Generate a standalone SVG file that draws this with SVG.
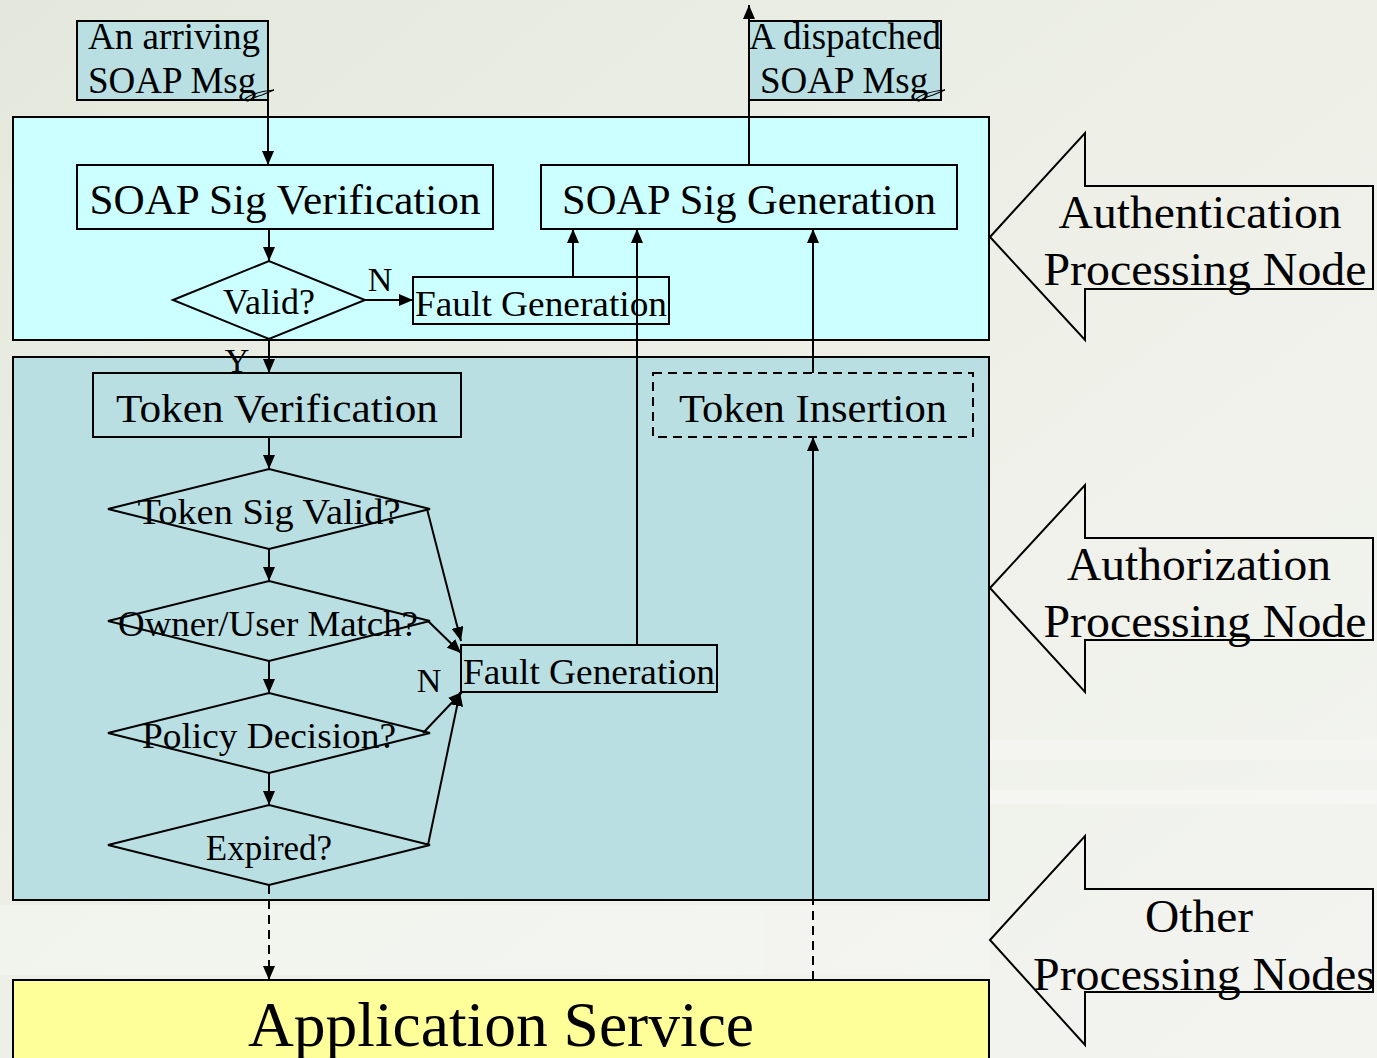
<svg xmlns="http://www.w3.org/2000/svg" width="1377" height="1058" viewBox="0 0 1377 1058">
<defs>
<linearGradient id="bg" x1="0" y1="0" x2="1" y2="1">
<stop offset="0" stop-color="#e4e8dc"/>
<stop offset="0.5" stop-color="#eef0e8"/>
<stop offset="1" stop-color="#f3f4f0"/>
</linearGradient>
<marker id="ah" markerUnits="userSpaceOnUse" markerWidth="14" markerHeight="12" refX="14" refY="6" orient="auto">
<path d="M0,0 L14,6 L0,12 z" fill="#000"/>
</marker>
<style>
text{font-family:"Liberation Serif","Times New Roman",serif;fill:#000}
.box{stroke:#000;stroke-width:2}
.ln{fill:none;stroke:#000;stroke-width:2}
.arr{fill:none;stroke:#000;stroke-width:2;marker-end:url(#ah)}
.dash{stroke-dasharray:9,6}
.dm{fill:none;stroke:#000;stroke-width:2}
.big{stroke:#000;stroke-width:2;fill:none}
</style>
</defs>
<rect width="1377" height="1058" fill="url(#bg)"/>
<g id="bg-stack" opacity="0.5">
<rect x="990" y="740" width="387" height="20" fill="#f8f8f6"/>
<rect x="990" y="790" width="387" height="14" fill="#fafaf8"/>
<rect x="0" y="905" width="990" height="70" fill="#f6f7f3"/>
</g>

<g id="layer-authentication">
<rect class="box" x="13" y="117" width="976" height="223" fill="#ccffff"/>
</g>
<g id="layer-authorization">
<rect class="box" x="13" y="357" width="976" height="543" fill="#b9dfe3"/>
</g>
<g id="application-service">
<rect class="box" x="13" y="980" width="976" height="90" fill="#ffff99"/>
<text x="501" y="1046" font-size="64" text-anchor="middle" textLength="506" lengthAdjust="spacingAndGlyphs">Application Service</text>
</g>

<g id="arriving-msg">
<rect class="box" x="77" y="21" width="191" height="79" fill="#b9dfe3"/>
<text x="88" y="49" font-size="37" textLength="172" lengthAdjust="spacingAndGlyphs">An arriving</text>
<text x="88" y="93" font-size="37">SOAP Msg</text>
<path d="M244,100 Q252,92 274,90 L262,95 Q254,97 248,101 Z" fill="none" stroke="#000" stroke-width="1.2"/>
</g>
<g id="dispatched-msg">
<rect class="box" x="749" y="21" width="192" height="79" fill="#b9dfe3"/>
<text x="749" y="49" font-size="37" textLength="192" lengthAdjust="spacingAndGlyphs">A dispatched</text>
<text x="760" y="93" font-size="37">SOAP Msg</text>
<path d="M915,100 Q923,92 945,90 L933,95 Q925,97 919,101 Z" fill="none" stroke="#000" stroke-width="1.2"/>
</g>

<g id="soap-sig-verification">
<rect class="box" x="77" y="165" width="416" height="64" fill="none"/>
<text x="285" y="214" font-size="42" text-anchor="middle" textLength="391" lengthAdjust="spacingAndGlyphs">SOAP Sig Verification</text>
</g>
<g id="soap-sig-generation">
<rect class="box" x="541" y="165" width="416" height="64" fill="none"/>
<text x="749" y="214" font-size="42" text-anchor="middle" textLength="374" lengthAdjust="spacingAndGlyphs">SOAP Sig Generation</text>
</g>
<g id="valid">
<polygon class="dm" points="173,300 269,261 365,300 269,339"/>
<text x="269" y="314" font-size="36" text-anchor="middle">Valid?</text>
</g>
<g id="fault-generation-1">
<rect class="box" x="413" y="277" width="256" height="47" fill="none"/>
<text x="415" y="316" font-size="36" textLength="252" lengthAdjust="spacingAndGlyphs">Fault Generation</text>
</g>

<g id="token-verification">
<rect class="box" x="93" y="373" width="368" height="64" fill="none"/>
<text x="277" y="422" font-size="41" text-anchor="middle" textLength="322" lengthAdjust="spacingAndGlyphs">Token Verification</text>
</g>
<g id="token-insertion">
<rect class="box dash" x="653" y="373" width="320" height="64" fill="none"/>
<text x="813" y="422" font-size="41" text-anchor="middle" textLength="268" lengthAdjust="spacingAndGlyphs">Token Insertion</text>
</g>
<g id="token-sig-valid">
<polygon class="dm" points="108,509 269,469 430,509 269,549"/>
<text x="269" y="524" font-size="35" text-anchor="middle" textLength="263" lengthAdjust="spacingAndGlyphs">Token Sig Valid?</text>
</g>
<g id="owner-user-match">
<polygon class="dm" points="108,621 269,581 430,621 269,661"/>
<text x="268" y="636" font-size="35" text-anchor="middle" textLength="300" lengthAdjust="spacingAndGlyphs">Owner/User Match?</text>
</g>
<g id="policy-decision">
<polygon class="dm" points="108,733 269,693 430,733 269,773"/>
<text x="269" y="748" font-size="35" text-anchor="middle" textLength="254" lengthAdjust="spacingAndGlyphs">Policy Decision?</text>
</g>
<g id="expired">
<polygon class="dm" points="108,845 269,805 430,845 269,885"/>
<text x="269" y="860" font-size="35" text-anchor="middle">Expired?</text>
</g>
<g id="fault-generation-2">
<rect class="box" x="461" y="645" width="256" height="47" fill="none"/>
<text x="463" y="684" font-size="36" textLength="252" lengthAdjust="spacingAndGlyphs">Fault Generation</text>
</g>

<g id="authentication-arrow">
<polygon class="big" points="990,237 1085,133 1085,186 1373,186 1373,289 1085,289 1085,340"/>
<text x="1200" y="228" font-size="46" text-anchor="middle" textLength="283" lengthAdjust="spacingAndGlyphs">Authentication</text>
<text x="1205" y="285" font-size="46" text-anchor="middle" textLength="323" lengthAdjust="spacingAndGlyphs">Processing Node</text>
</g>
<g id="authorization-arrow">
<polygon class="big" points="990,588 1085,485 1085,538 1373,538 1373,640 1085,640 1085,692"/>
<text x="1199" y="580" font-size="46" text-anchor="middle" textLength="264" lengthAdjust="spacingAndGlyphs">Authorization</text>
<text x="1205" y="637" font-size="46" text-anchor="middle" textLength="323" lengthAdjust="spacingAndGlyphs">Processing Node</text>
</g>
<g id="other-arrow">
<polygon class="big" points="990,940 1085,836 1085,889 1373,889 1373,992 1085,992 1085,1045"/>
<text x="1199" y="932" font-size="46" text-anchor="middle" textLength="108" lengthAdjust="spacingAndGlyphs">Other</text>
<text x="1204" y="990" font-size="46" text-anchor="middle" textLength="342" lengthAdjust="spacingAndGlyphs">Processing Nodes</text>
</g>

<g id="connectors">
<path class="arr" d="M268,96 L268,165"/>
<path class="arr" d="M749,165 L749,5"/>
<path class="arr" d="M269,229 L269,261"/>
<path class="arr" d="M365,300 L413,300"/>
<path class="arr" d="M573,277 L573,229"/>
<path class="arr" d="M637,645 L637,229"/>
<path class="arr" d="M813,373 L813,229"/>
<path class="arr" d="M269,339 L269,373"/>
<path class="arr" d="M269,437 L269,469"/>
<path class="arr" d="M269,549 L269,581"/>
<path class="arr" d="M269,661 L269,693"/>
<path class="arr" d="M269,773 L269,805"/>
<path class="arr dash" d="M269,885 L269,980"/>
<path class="arr" d="M427,509 L461,641"/>
<path class="arr" d="M428,621 L461,653"/>
<path class="arr" d="M423,733 L462,692"/>
<path class="arr" d="M428,845 L460,692"/>
<path class="ln dash" d="M813,980 L813,900"/>
<path class="arr" d="M813,900 L813,437"/>
<text x="380" y="291" font-size="34" text-anchor="middle">N</text>
<text x="237" y="372" font-size="34" text-anchor="middle">Y</text>
<text x="429" y="692" font-size="34" text-anchor="middle">N</text>
</g>
</svg>
